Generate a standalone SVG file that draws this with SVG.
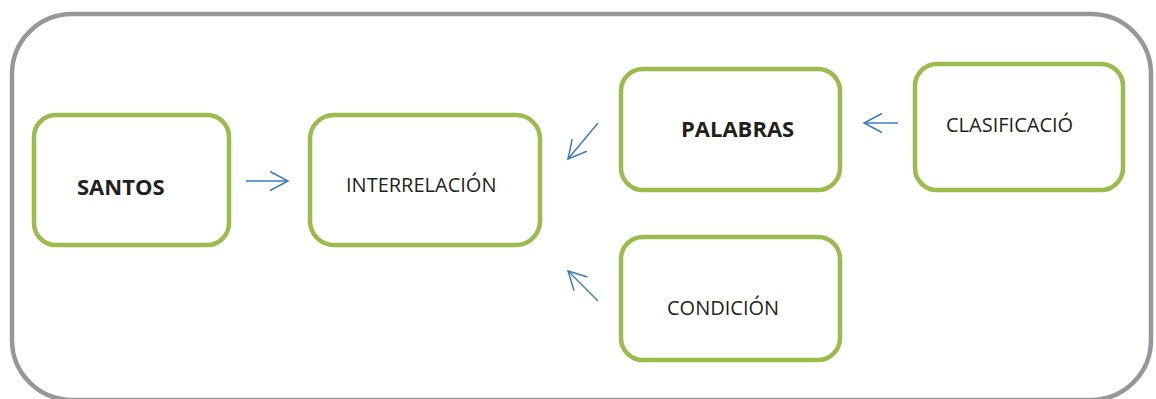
<svg xmlns="http://www.w3.org/2000/svg" width="1156" height="399" viewBox="0 0 1156 399">
<style>
.frame{fill:none;stroke:#97979b;stroke-width:4.5}
.node{fill:#fff;stroke:#9bbb4d;stroke-width:4.5}
.t{font-family:"Open Sans","Liberation Sans",sans-serif;font-size:20px;fill:#231f20}
.b{font-family:"Open Sans","Liberation Sans",sans-serif;font-size:22px;font-weight:bold;fill:#231f20}
.c{fill:none;stroke:#3d7cc4;stroke-width:1.5}
</style>
<defs>
<marker id="ah" markerUnits="userSpaceOnUse" markerWidth="24" markerHeight="24" viewBox="-20 -12 24 24" refX="0" refY="0" orient="auto">
<path d="M-18,-9.5 L0,0 L-18,9.5" fill="none" stroke="#3d7cc4" stroke-width="1.5"/>
</marker>
</defs>
<rect class="frame" x="12" y="14" width="1139" height="386" rx="60" ry="60"/>
<g id="santos">
<rect class="node" x="34" y="115" width="195" height="130" rx="22"/>
<text class="b" x="77" y="195">SANTOS</text>
</g>
<g id="interrelacion">
<rect class="node" x="310" y="115" width="230" height="130" rx="24"/>
<text class="t" x="346" y="192">INTERRELACIÓN</text>
</g>
<g id="palabras">
<rect class="node" x="621" y="69" width="219" height="121" rx="22"/>
<text class="b" x="681" y="137">PALABRAS</text>
</g>
<g id="clasificacio">
<rect class="node" x="915" y="64" width="208" height="126" rx="22"/>
<text class="t" x="946" y="132">CLASIFICACIÓ</text>
</g>
<g id="condicion">
<rect class="node" x="621" y="237" width="219" height="123" rx="22"/>
<text class="t" x="667" y="315">CONDICIÓN</text>
</g>
<g id="connectors">
<line class="c" x1="246" y1="181" x2="288" y2="181" marker-end="url(#ah)"/>
<line class="c" x1="598" y1="123" x2="568" y2="159" marker-end="url(#ah)"/>
<line class="c" x1="898" y1="123" x2="864" y2="123" marker-end="url(#ah)"/>
<line class="c" x1="598" y1="301" x2="568" y2="271" marker-end="url(#ah)"/>
</g>
</svg>
